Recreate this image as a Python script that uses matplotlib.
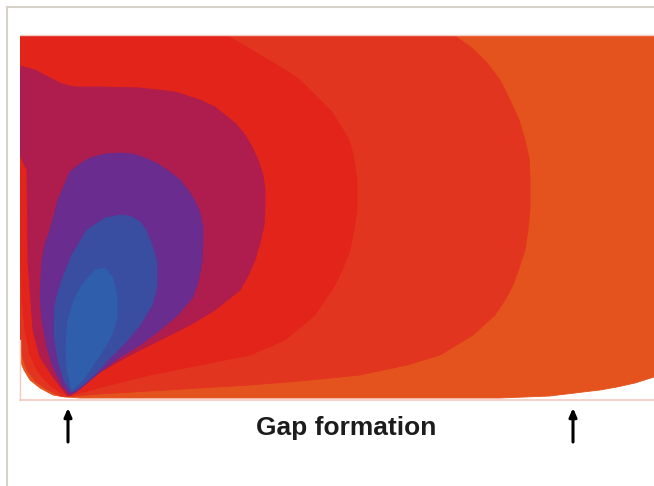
import matplotlib
matplotlib.use("Agg")
import matplotlib.pyplot as plt
from matplotlib.lines import Line2D

# Filled iso-bands of the field, outermost first. Coordinates: x along the gap,
# y height above the gap surface (same units for both axes).
band_colors = ["#E4531D", "#E2351F", "#E2241A", "#AE1D4E",
               "#6A2C8E", "#3A4EA1", "#2F5EAC"]

band0_x = [0, 634, 634, 615, 597, 580, 563, 530, 480, 60, 48, 45, 33, 20, 10, 4, 0]
band0_y = [364, 364, 23, 17, 13, 10, 8, 4, 2, 2, 3, 3, 5, 12, 20, 30, 40]

band1_x = [435, 452, 467, 480, 490, 499, 505, 509, 510, 510, 508, 505, 499, 493,
           485, 475, 453, 420, 387, 340, 280, 230, 180, 130, 80, 55, 48, 40, 28,
           16, 7, 2, 0, 0]
band1_y = [364, 352, 337, 320, 300, 280, 260, 242, 225, 190, 170, 150, 132, 115,
           100, 85, 65, 45, 35, 25, 19, 15, 12, 9, 6, 4, 3, 4, 10, 18, 30, 45, 60,
           364]

band2_x = [208, 240, 262, 280, 300, 312, 320, 328, 332, 335, 337, 337, 334, 330,
           323, 315, 295, 265, 230, 180, 130, 90, 60, 50, 42, 30, 18, 10, 5, 2,
           0, 0]
band2_y = [364, 345, 332, 320, 300, 288, 275, 262, 250, 235, 220, 190, 170, 150,
           132, 115, 85, 60, 45, 35, 25, 15, 7, 4, 6, 15, 28, 45, 70, 100, 150,
           364]

band3_x = [0, 15, 30, 42, 55, 80, 120, 155, 180, 195, 205, 216, 225, 232, 238,
           243, 245, 245, 244, 240, 235, 228, 220, 195, 170, 140, 110, 80, 60, 51,
           48, 43, 33, 20, 13, 8, 7, 0]
band3_y = [334, 330, 322, 316, 313, 313, 312, 308, 300, 293, 285, 276, 265, 253,
           240, 225, 210, 192, 175, 157, 140, 124, 110, 90, 75, 60, 45, 28, 12, 5,
           4, 10, 23, 43, 70, 137, 230, 245]

band4_x = [50, 43, 32, 27, 22, 20, 21, 22, 25, 30, 38, 50, 60, 70, 85, 100, 113,
           125, 138, 150, 160, 168, 175, 180, 183, 183, 182, 178, 173, 158, 140,
           120, 100, 80, 67, 56]
band4_y = [6, 13, 35, 53, 80, 103, 122, 140, 156, 170, 200, 228, 236, 242, 246,
           247, 246, 242, 236, 228, 220, 210, 199, 187, 173, 160, 137, 118, 103,
           85, 70, 55, 43, 28, 17, 8]

band5_x = [51, 44, 38, 34, 34, 35, 38, 42, 52, 67, 85, 102, 112, 120, 126, 130,
           134, 137, 137, 135, 132, 120, 105, 90, 77, 65, 56]
band5_y = [8, 20, 40, 65, 80, 95, 108, 120, 145, 170, 182, 185, 183, 178, 170,
           160, 149, 137, 115, 105, 95, 75, 57, 42, 28, 17, 10]

band6_x = [52, 47, 46, 48, 54, 62, 75, 85, 93, 97, 97, 92, 83, 73, 63]
band6_y = [10, 30, 55, 80, 100, 115, 130, 132, 122, 105, 83, 65, 50, 35, 20]

bands_x = [band0_x, band1_x, band2_x, band3_x, band4_x, band5_x, band6_x]
bands_y = [band0_y, band1_y, band2_y, band3_y, band4_y, band5_y, band6_y]

arrow_x = [48, 553]
label_text = "Gap formation"
label_x = 326

W, H = 654, 486
fig = plt.figure(figsize=(W / 100, H / 100), dpi=100)
fig.patch.set_facecolor("white")

# thin grey frame along the top and left of the panel
fig.add_artist(Line2D([7 / W, 1], [1 - 7 / H, 1 - 7 / H], color="#D6D2CA", lw=1.5))
fig.add_artist(Line2D([7 / W, 7 / W], [0, 1 - 7 / H], color="#D6D2CA", lw=1.5))

ax = fig.add_axes([20 / W, 86 / H, 634 / W, 364 / H])
ax.set_xlim(0, 634)
ax.set_ylim(0, 364)
ax.axis("off")

for bx, by, c in zip(bands_x, bands_y, band_colors):
    ax.fill(bx, by, color=c, lw=0.6, ec=c, antialiased=True, joinstyle="round")

# light outline of the computational domain
edge = "#F4C9C0"
ax.plot([0, 634], [0, 0], color=edge, lw=1.2, clip_on=False)
ax.plot([0, 634], [364.5, 364.5], color=edge, lw=1.0, clip_on=False)
ax.plot([0, 0], [0, 60], color=edge, lw=1.0, clip_on=False)

for xa in arrow_x:
    ax.annotate("", xy=(xa, -8), xytext=(xa, -42),
                xycoords="data", textcoords="data",
                arrowprops=dict(arrowstyle="-|>,head_length=0.5,head_width=0.22",
                                color="black", lw=2.2, shrinkA=0, shrinkB=0),
                annotation_clip=False)

ax.text(label_x, -35, label_text, ha="center", va="baseline",
        fontsize=19, fontweight="bold", family="Liberation Sans",
        color="#1c1c1c", clip_on=False)

fig.savefig("out.png", dpi=100, facecolor="white")
